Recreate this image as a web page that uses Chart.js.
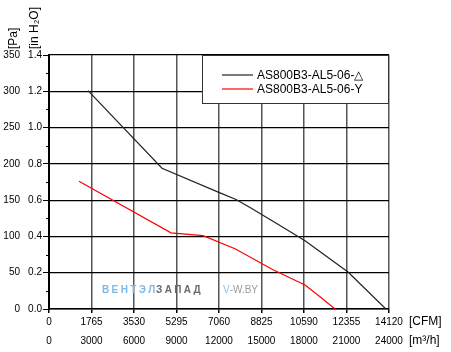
<!DOCTYPE html>
<html lang="ru">
<head>
<meta charset="UTF-8">
<title>AS800B3-AL5-06</title>
<script src="https://cdn.jsdelivr.net/npm/chart.js@4.4.1/dist/chart.umd.min.js"></script>
<style>
  html, body { margin: 0; padding: 0; background: #fff; }
  #wrap { width: 451px; height: 352px; }
</style>
</head>
<body>
<div id="wrap"><canvas id="fanChart" width="451" height="352"></canvas></div>
<script>
// данные кривых
const seriesNames = ['AS800B3-AL5-06-\u25B3', 'AS800B3-AL5-06-Y'];
const deltaCfm = [1620, 4693, 7102, 7766, 8348, 9593, 10632, 12418, 13990];
const deltaPa  = [301, 194, 160, 151, 140, 115, 94, 51, 0];
const starCfm  = [1246, 5067, 6396, 7725, 9303, 10632, 11255, 11880];
const starPa   = [176, 105, 101, 83, 54, 33, 17, 0];

// оси
const cfmTicks = [0, 1765, 3530, 5295, 7060, 8825, 10590, 12355, 14120];
const m3hTicks = [0, 3000, 6000, 9000, 12000, 15000, 18000, 21000, 24000];
const paTicks  = [0, 50, 100, 150, 200, 250, 300, 350];
const inTicks  = [0, 0.2, 0.4, 0.6, 0.8, 1.0, 1.2, 1.4];

const FONT = '"Liberation Sans", Arial, sans-serif';

var toPoints = function (xs, ys) {
    return xs.map(function (x, i) { return { x: x, y: ys[i] }; });
};

// подписи осей, легенда, водяной знак, мелкие риски
const extras = {
    id: 'extras',
    afterDraw: function (chart) {
        const c = chart.ctx;
        const area = chart.chartArea;
        const ys = chart.scales.y;
        c.save();

        // мелкие риски по оси Y
        c.strokeStyle = '#000';
        c.lineWidth = 1;
        for (let v = 25; v < 350; v += 50) {
            const py = Math.round(ys.getPixelForValue(v)) + 0.5;
            c.beginPath();
            c.moveTo(area.left - 3, py);
            c.lineTo(area.left, py);
            c.stroke();
        }

        // заголовки осей Y (повернутые)
        c.fillStyle = '#000';
        c.font = '12px ' + FONT;
        c.textAlign = 'left';
        c.textBaseline = 'middle';
        c.save();
        c.translate(14, 49);
        c.rotate(-Math.PI / 2);
        c.fillText('[Pa]', 0, 0);
        c.restore();
        c.save();
        c.translate(35, 49);
        c.rotate(-Math.PI / 2);
        c.fillText('[in H\u2082O]', 0, 0);
        c.restore();

        // единицы по X
        c.textAlign = 'left';
        c.font = '12px ' + FONT;
        c.fillText('[CFM]', 409, 322);
        c.fillText('[m\u00B3/h]', 409, 341);

        // легенда
        const lx = 202, ly = area.top, lw = area.right - 202, lh = 48;
        c.fillStyle = '#fff';
        c.fillRect(lx, ly, lw, lh);
        c.strokeStyle = '#333';
        c.lineWidth = 1;
        c.strokeRect(lx + 0.5, ly + 0.5, lw - 1, lh);
        chart.data.datasets.forEach(function (ds, i) {
            const yy = ly + 20 + i * 14;
            c.strokeStyle = ds.borderColor;
            c.lineWidth = 1.2;
            c.beginPath();
            c.moveTo(222, yy);
            c.lineTo(253, yy);
            c.stroke();
            c.fillStyle = '#000';
            c.font = '12px ' + FONT;
            c.textBaseline = 'middle';
            c.fillText(ds.label, 257, yy + 1);
        });

        // водяной знак
        c.font = 'bold 10px ' + FONT;
        c.textBaseline = 'middle';
        let x = 102;
        const wy = 290;
        'ВЕНТЭЛ'.split('').forEach(function (ch) {
            c.fillStyle = '#7db9e8';
            c.fillText(ch, x, wy);
            x += c.measureText(ch).width + 2.4;
        });
        x = 156;
        'ЗАПАД'.split('').forEach(function (ch) {
            c.fillStyle = '#6a6a6a';
            c.fillText(ch, x, wy);
            x += c.measureText(ch).width + 2.4;
        });
        c.font = '10px ' + FONT;
        c.fillStyle = '#8fc3ec';
        c.fillText('V', 223, wy);
        c.fillStyle = '#9a9a9a';
        c.fillText('-W.BY', 223 + c.measureText('V').width, wy);

        c.restore();
    }
};

const ctx = document.getElementById('fanChart').getContext('2d');
const fanChart = new Chart(ctx, {
    type: 'scatter',
    data: {
        datasets: [{
            label: seriesNames[0],
            data: toPoints(deltaCfm, deltaPa),
            borderColor: '#222',
            borderWidth: 1.2,
            showLine: true,
            pointRadius: 0,
            tension: 0
        }, {
            label: seriesNames[1],
            data: toPoints(starCfm, starPa),
            borderColor: '#ff0000',
            borderWidth: 1.2,
            showLine: true,
            pointRadius: 0,
            tension: 0
        }]
    },
    options: {
        responsive: false,
        animation: false,
        events: [],
        layout: { padding: { top: 55, right: 62, left: 0, bottom: 0 } },
        plugins: {
            legend: { display: false },
            tooltip: { enabled: false }
        },
        scales: {
            x: {
                type: 'linear',
                position: 'bottom',
                weight: 0,
                min: 0,
                max: 14120,
                afterBuildTicks: function (s) { s.ticks = cfmTicks.map(function (v) { return { value: v }; }); },
                afterFit: function (s) { s.height = 22; },
                ticks: {
                    color: '#000',
                    font: { family: FONT, size: 10 },
                    padding: 3,
                    maxRotation: 0,
                    autoSkip: false,
                    callback: function (v) { return String(v); }
                },
                grid: { color: '#555', lineWidth: 1.5, tickLength: 4, tickColor: '#000' },
                border: { color: '#000', width: 1.5 }
            },
            x2: {
                type: 'linear',
                position: 'bottom',
                weight: 1,
                min: 0,
                max: 24000,
                afterBuildTicks: function (s) { s.ticks = m3hTicks.map(function (v) { return { value: v }; }); },
                afterFit: function (s) { s.height = 21; },
                ticks: {
                    color: '#000',
                    font: { family: FONT, size: 10 },
                    padding: 4,
                    maxRotation: 0,
                    autoSkip: false,
                    callback: function (v) { return String(v); }
                },
                grid: { display: false, drawTicks: false },
                border: { display: false }
            },
            y: {
                type: 'linear',
                position: 'left',
                weight: 1,
                min: 0,
                max: 350,
                afterBuildTicks: function (s) { s.ticks = paTicks.map(function (v) { return { value: v }; }); },
                afterFit: function (s) { s.width = 24; },
                ticks: {
                    color: '#000',
                    font: { family: FONT, size: 10 },
                    padding: 4,
                    callback: function (v) { return String(v); }
                },
                grid: { color: '#000', lineWidth: 1.2, drawTicks: false },
                border: { display: false }
            },
            y2: {
                type: 'linear',
                position: 'left',
                weight: 0,
                min: 0,
                max: 1.4,
                afterBuildTicks: function (s) { s.ticks = inTicks.map(function (v) { return { value: v }; }); },
                afterFit: function (s) { s.width = 25; },
                ticks: {
                    color: '#000',
                    font: { family: FONT, size: 10 },
                    padding: 1,
                    callback: function (v) { return v.toFixed(1); }
                },
                grid: { drawOnChartArea: false, tickLength: 6, tickColor: '#000' },
                border: { color: '#000', width: 2 }
            }
        }
    },
    plugins: [extras]
});
</script>
</body>
</html>
